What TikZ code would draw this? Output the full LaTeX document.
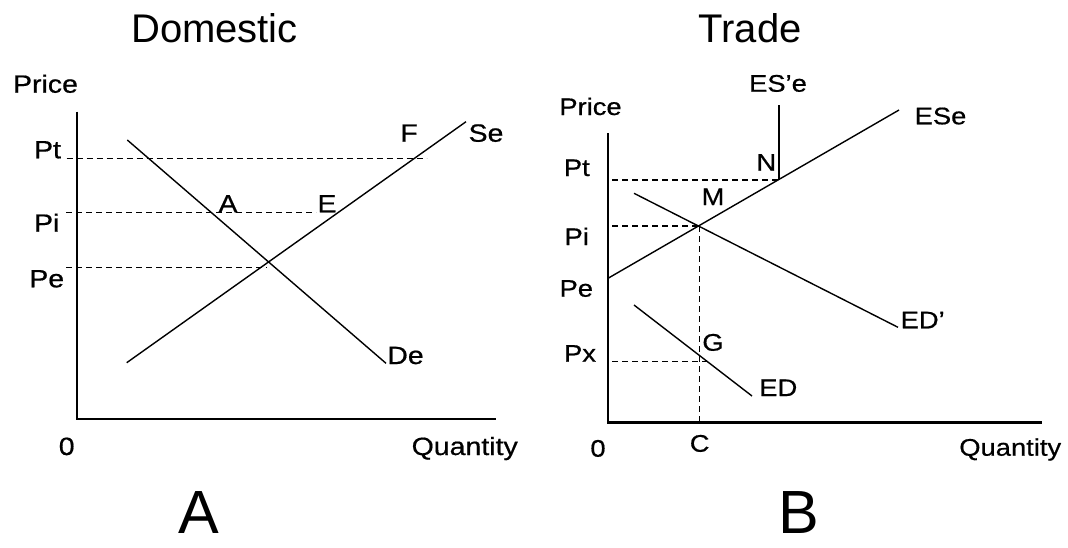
\documentclass[tikz,border=0pt]{standalone}
\usepackage{fontspec}
\setmainfont{Liberation Sans}
\newfontfamily\lblfont[FakeStretch=1.14,FakeBold=0.6]{Liberation Sans}
\tikzset{axis/.style={line width=2.4pt},curve/.style={line width=1.4pt},guide/.style={line width=1.4pt,dash pattern=on 6pt off 4pt},
  lblA/.style={anchor=base,inner sep=0pt,font=\lblfont\fontsize{25}{30}\selectfont},
  lblB/.style={anchor=base,inner sep=0pt,font=\lblfont\fontsize{24}{29}\selectfont},
  ttl/.style={anchor=base,inner sep=0pt,font=\fontsize{40}{44}\selectfont},
  big/.style={anchor=base,inner sep=0pt,font=\fontsize{61}{66}\selectfont}}

\begin{document}
\begin{tikzpicture}[x=1pt,y=-1pt]
\useasboundingbox (0,0) rectangle (1068,547);
% panel A
\coordinate (oA) at (77,419);\coordinate (yA) at (77,111.7);\coordinate (xA) at (495.7,419);
\coordinate (se0) at (126.7,362.7);\coordinate (se1) at (466,121.7);
\coordinate (de0) at (127.3,140);\coordinate (de1) at (386,363.3);
\coordinate (ptA0) at (66.7,158.3);\coordinate (ptA1) at (426.7,158.3);
\coordinate (piA0) at (66,212.3);\coordinate (piA1) at (316,212.3);
\coordinate (peA0) at (66,267.7);\coordinate (peA1) at (266.7,267.7);
\draw[axis] (yA)--(oA)--(xA);
\draw[curve] (se0)--(se1);\draw[curve] (de0)--(de1);
\draw[guide] (ptA0)--(ptA1);\draw[guide] (piA0)--(piA1);\draw[guide] (peA0)--(peA1);
\node[ttl] (domestic) at (214.5,42.3){Domestic};
\node[lblA] (priceA) at (45.5,92.7){Price};
\node[lblA] (ptA) at (47.5,158.3){Pt};\node[lblA] (piA) at (46.7,231.7){Pi};\node[lblA] (peA) at (46.7,287.3){Pe};
\node[lblA] (F) at (409,141.7){F};\node[lblA] (Se) at (486,141.7){Se};
\node[lblA] (A) at (228,212.3){A};\node[lblA] (E) at (327,212.3){E};
\node[lblA] (De) at (405.5,364){De};
\node[lblA] (zeroA) at (66.7,455){0};\node[lblA] (qtyA) at (464.7,455){Quantity};
\node[big] (panelA) at (199.2,533){A};
% panel B
\coordinate (oB) at (608,422.3);\coordinate (yB) at (608,133.3);\coordinate (xB) at (1042.3,422.3);
\coordinate (es0) at (608,278.3);\coordinate (es1) at (899,110);
\coordinate (M) at (699.5,226);\coordinate (N) at (779,180);\coordinate (esp) at (779,105);
\coordinate (edp0) at (634,193.3);\coordinate (edp1) at (898,327.3);
\coordinate (ed0) at (634,305);\coordinate (ed1) at (752,396);
\coordinate (ptB0) at (612,180);\coordinate (piB0) at (612,226);
\coordinate (pxB0) at (612,361.7);\coordinate (pxB1) at (711.3,361.7);\coordinate (cB) at (699.5,422.3);
\draw[axis] (yB)--(oB)--(xB);
\draw[curve] (es0)--(es1);\draw[curve] (esp)--(N);
\draw[curve] (edp0)--(edp1);\draw[curve] (ed0)--(ed1);
\draw[guide] (ptB0)--(N);\draw[guide] (piB0)--(M);\draw[guide] (M)--(cB);\draw[guide] (pxB0)--(pxB1);
\node[ttl] (trade) at (750.2,42.3){Trade};
\node[lblB] (ESpe) at (778,91.7){ES’e};\node[lblB] (ESe) at (940.5,124.3){ESe};
\node[lblB] (priceB) at (590.5,115){Price};
\node[lblB] (ptB) at (576.8,176){Pt};\node[lblB] (piB) at (576.7,245){Pi};
\node[lblB] (peB) at (576.3,296.7){Pe};\node[lblB] (pxB) at (580,361.7){Px};
\node[lblB] (Nl) at (766.3,170.7){N};\node[lblB] (Ml) at (713,205){M};\node[lblB] (Gl) at (713,350.7){G};
\node[lblB] (EDp) at (922.7,328.3){ED’};\node[lblB] (ED) at (778.3,396){ED};
\node[lblB] (zeroB) at (598,456.7){0};\node[lblB] (Cl) at (699.7,451.7){C};\node[lblB] (qtyB) at (1010.2,455.7){Quantity};
\node[big] (panelB) at (799.2,533){B};
\end{tikzpicture}
\end{document}
